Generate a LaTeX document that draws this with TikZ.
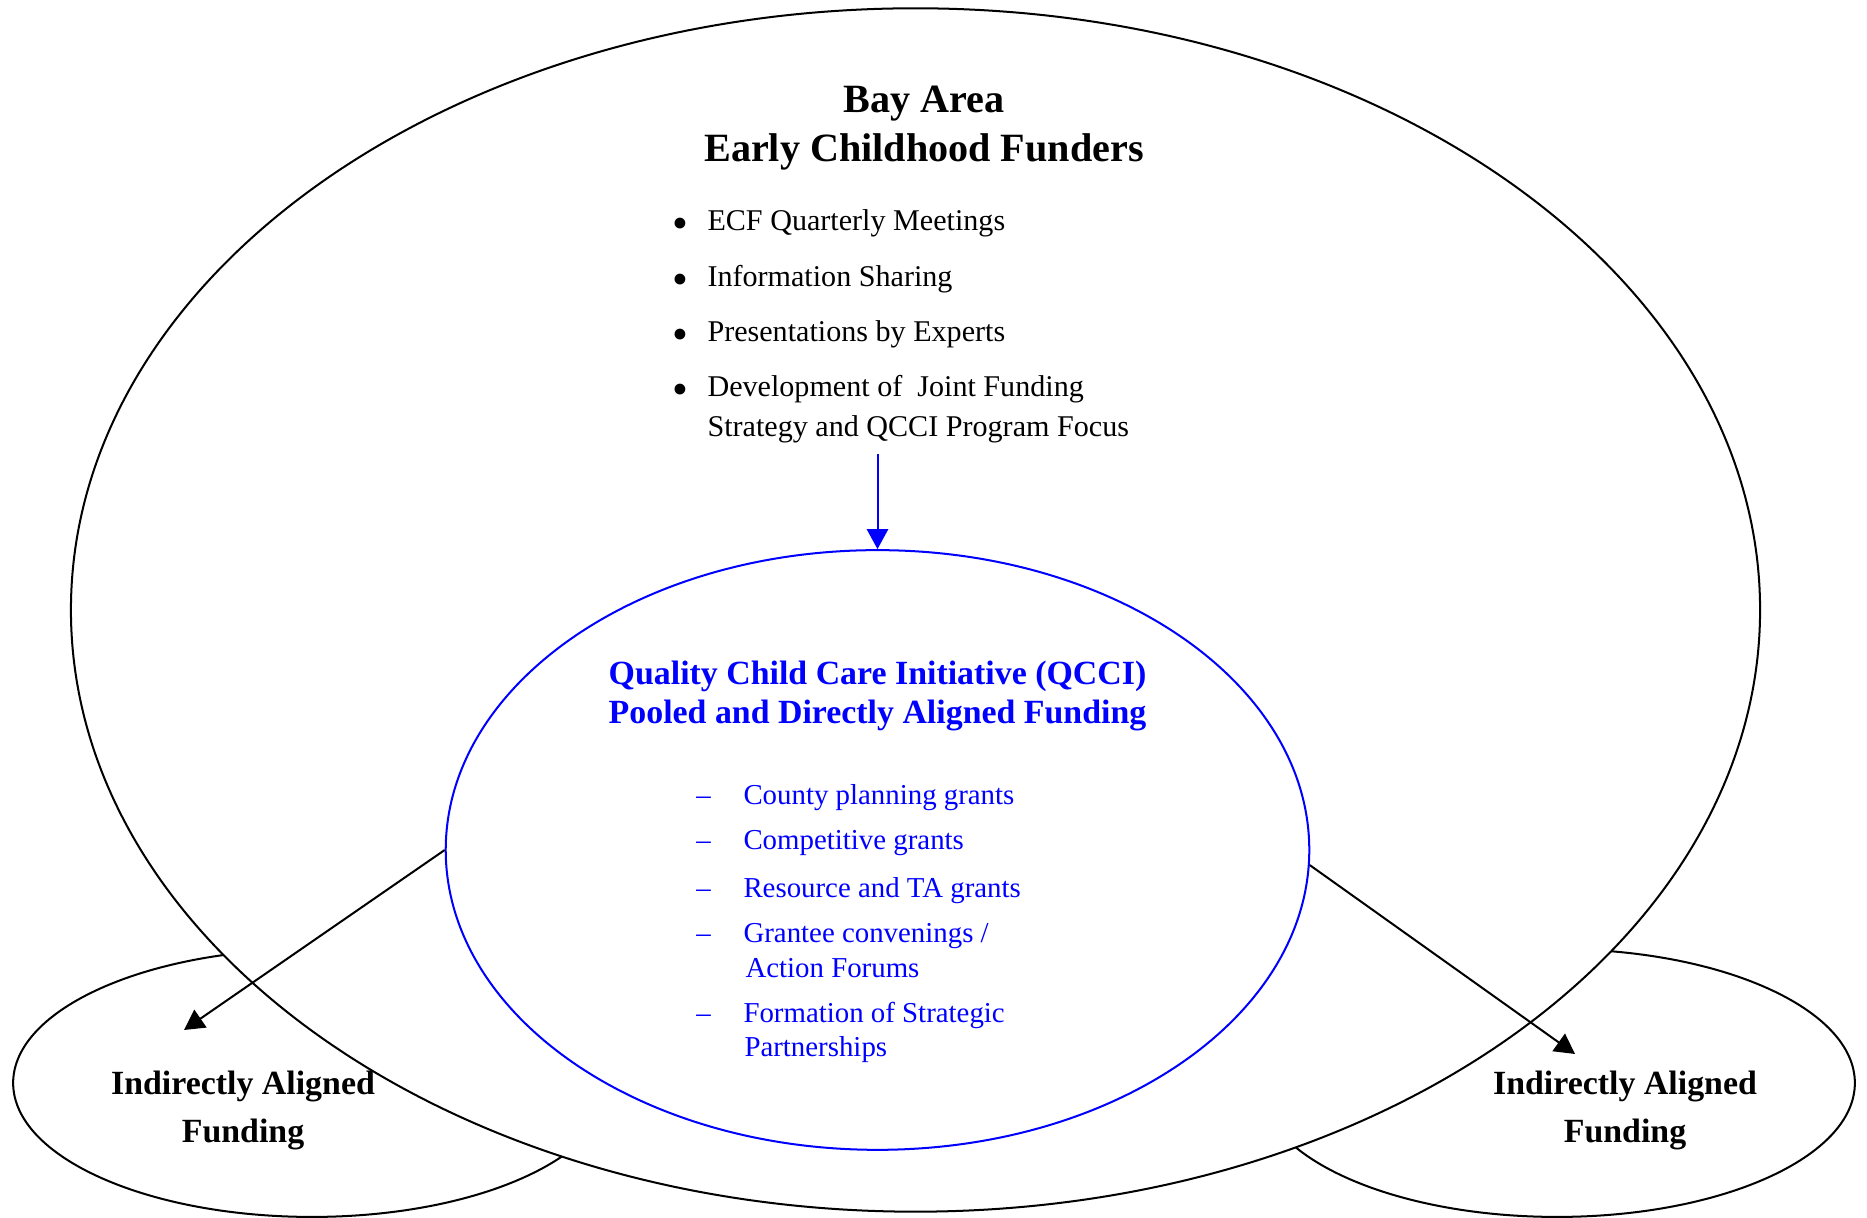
\documentclass[tikz,border=0pt]{standalone}
\usepackage{fontspec}
\setmainfont{Liberation Serif}
\usepackage{tikz}
\usetikzlibrary{arrows.meta,shapes.geometric,positioning}
\usepackage{xcolor}
\definecolor{qblue}{RGB}{0,0,255}
\tikzstyle{arrow} = [thick,-{Triangle[length=8pt,width=8.5pt]}]
\tikzstyle{ring} = [ellipse,draw,thick,inner sep=0pt]
\tikzstyle{headline} = [inner sep=0pt,anchor=base,font=\bfseries\fontsize{16}{19}\selectfont]
\tikzstyle{sidehead} = [inner sep=0pt,anchor=base,font=\bfseries\fontsize{13.5}{16}\selectfont]
\tikzstyle{qhead} = [sidehead,text=qblue]
\tikzstyle{entry} = [inner sep=0pt,anchor=base west,font=\fontsize{12}{14}\selectfont]
\tikzstyle{grant} = [entry,text=qblue,font=\fontsize{11.5}{14}\selectfont]
\newcommand{\bigdot}{{\fontsize{18}{18}\selectfont\raisebox{-2.8pt}{\textbullet}}}

\begin{document}
\begin{tikzpicture}[x=0.014cm,y=0.014cm]
    \useasboundingbox (0,0) rectangle (1867,1218);

    % Side funders, partly hidden behind the big ellipse
    \node[ring, minimum width=8.372cm, minimum height=3.752cm] (leftfund) at (312,135) {};
    \node[ring, minimum width=8.344cm, minimum height=3.752cm] (rightfund) at (1557,135) {};

    % Bay Area funders
    \node[ring, fill=white, minimum width=23.66cm, minimum height=16.856cm] (ecf) at (915.5,608) {};

    % QCCI
    \node[ring, draw=qblue, minimum width=12.096cm, minimum height=8.4cm] (qcci) at (877.5,368) {};

    % Title
    \node[headline] (bay) at (924,1105) {Bay Area};
    \node[headline] (ecfname) at (924,1056) {Early Childhood Funders};

    % Activities
    \foreach \y/\txt [count=\i] in {987/ECF Quarterly Meetings, 931/Information Sharing,
            876/Presentations by Experts, 821/Development of\ \ Joint Funding}
        \node[entry] (act\i) at (707,\y) {\llap{\bigdot\hspace{7.5pt}}\txt};
    \node[entry] (act5) at (707,781) {Strategy and QCCI Program Focus};

    % QCCI heading
    \node[qhead] (qtitle) at (877.5,533) {Quality Child Care Initiative (QCCI)};
    \node[qhead] (qsub) at (877.5,494) {Pooled and Directly Aligned Funding};

    % Grants
    \foreach \y/\txt [count=\i] in {413/County planning grants, 368/Competitive grants,
            320/Resource and TA grants, 275/{Grantee convenings /}, 195/Formation of Strategic}
        \node[grant] (grant\i) at (743,\y) {\llap{--\hspace{13pt}}\txt};
    \node[grant] (grant6) at (745,240) {Action Forums};
    \node[grant] (grant7) at (744,161) {Partnerships};

    % Indirect funding
    \node[sidehead] (lefthead) at (243,123) {Indirectly Aligned};
    \node[sidehead] (leftsub) at (243,75) {Funding};
    \node[sidehead] (righthead) at (1625,123) {Indirectly Aligned};
    \node[sidehead] (rightsub) at (1625,75) {Funding};

    % Arrows
    \coordinate (feed) at (877.5,764);
    \coordinate (lefttip) at (184,188);
    \coordinate (righttip) at (1575,164);
    \draw[arrow, qblue] (feed) -- (qcci.north);
    \draw[arrow] (qcci.west) -- (lefttip);
    \draw[arrow] (qcci.-2) -- (righttip);
\end{tikzpicture}
\end{document}
